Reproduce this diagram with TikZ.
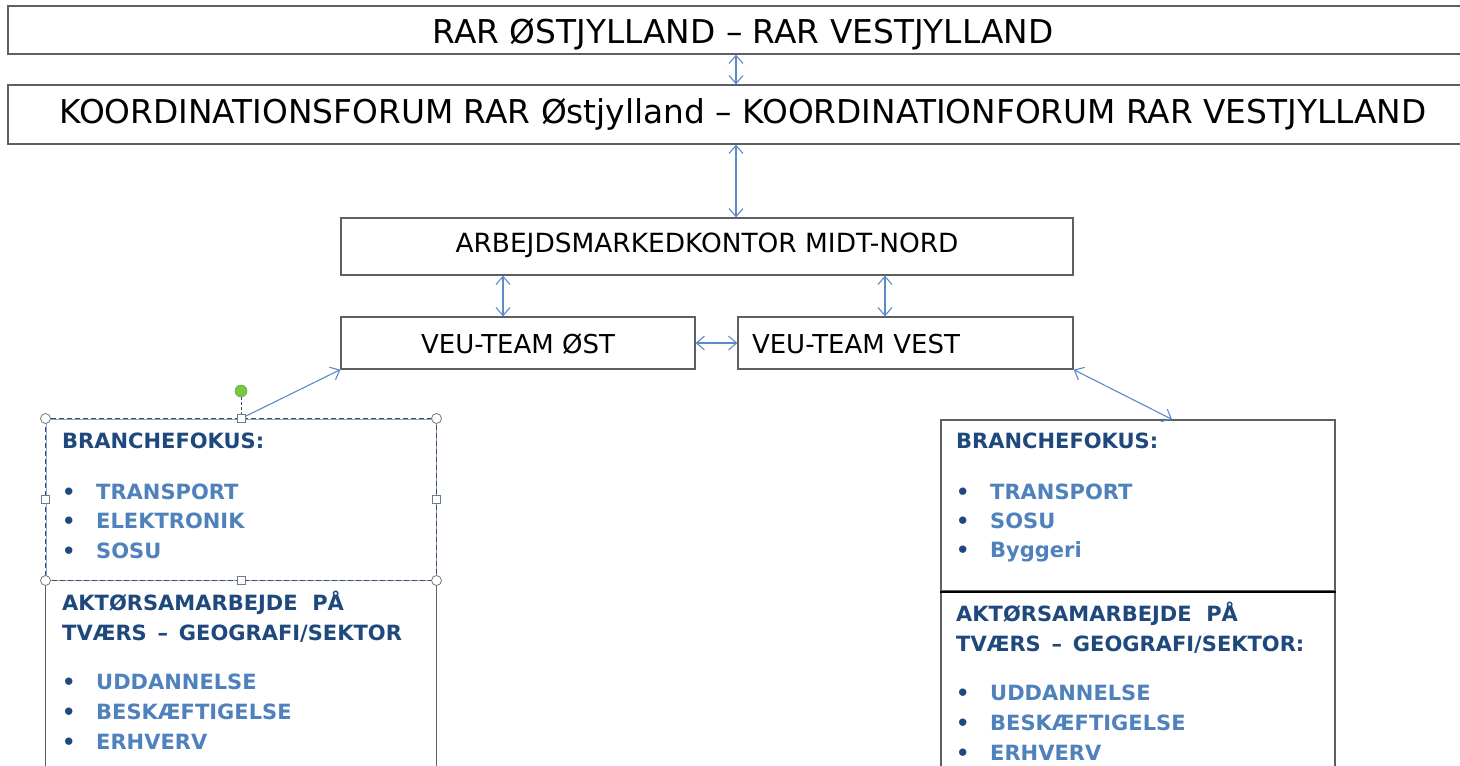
\documentclass[tikz,border=0pt]{standalone}
\usepackage{fontspec}
\setmainfont{DejaVu Sans}
\usetikzlibrary{arrows.meta}
\definecolor{dblue}{RGB}{31,73,125}
\definecolor{lblue}{RGB}{79,129,189}
\definecolor{arrblue}{RGB}{92,137,200}
\definecolor{boxgray}{RGB}{95,95,95}
\definecolor{selgray}{RGB}{60,72,95}
\definecolor{handlegray}{RGB}{120,120,120}
\definecolor{rotgreen}{RGB}{122,201,67}
\newcommand{\bulit}[1]{\makebox[34pt][l]{\textcolor{dblue}{•}}#1}
\begin{document}
\begin{tikzpicture}[x=1pt,y=-1pt,
  box/.style={draw=boxgray, line width=1.3pt, inner sep=0pt, fill=white},
  bigtxt/.style={font=\fontsize{32.8}{38}\selectfont, text depth=0pt},
  arbtxt/.style={font=\fontsize{26.4}{31}\selectfont, text depth=0pt},
  veutxt/.style={font=\fontsize{26}{31}\selectfont, text depth=0pt},
  conn/.style={draw=arrblue, line width=1.1pt, {Straight Barb[length=8pt,width=14pt]}-{Straight Barb[length=8pt,width=14pt]}},
  conn1/.style={draw=arrblue, line width=1.1pt, -{Straight Barb[length=8pt,width=14pt]}},
  hd/.style={font=\fontsize{21}{25}\selectfont\bfseries, text=dblue, anchor=base west, inner sep=0pt},
  itm/.style={font=\fontsize{21}{25}\selectfont\bfseries, text=lblue, anchor=base west, inner sep=0pt},
  hcirc/.style={circle, draw=handlegray, fill=white, line width=0.8pt, minimum size=10pt, inner sep=0pt},
  hsq/.style={rectangle, draw=handlegray!80!lblue, fill=white, line width=0.8pt, minimum size=8pt, inner sep=0pt},
  hrot/.style={circle, fill=rotgreen, draw=rotgreen!80!black, line width=0.5pt, minimum size=12pt, inner sep=0pt}]
\clip (0,0) rectangle (1460,766);
\fill[white] (0,0) rectangle (1460,766);

% top boxes
\node[box, bigtxt, text height=27.3pt, minimum width=1470pt, minimum height=48pt] (rar) at (743,30) {RAR ØSTJYLLAND – RAR VESTJYLLAND};
\node[box, bigtxt, text height=18.3pt, minimum width=1470pt, minimum height=59pt] (kf) at (743,114.5) {KOORDINATIONSFORUM RAR Østjylland – KOORDINATIONFORUM RAR VESTJYLLAND};
\node[box, arbtxt, text height=12.3pt, minimum width=732pt, minimum height=57pt] (arb) at (707,246.5) {ARBEJDSMARKEDKONTOR MIDT-NORD};
\node[box, veutxt, text height=20pt, minimum width=354pt, minimum height=52pt] (ost) at (518,343) {VEU-TEAM ØST};
\node[box, veutxt, text height=20pt, minimum height=52pt, text width=307pt, inner xsep=14pt, align=left] (vest) at (905.5,343) {VEU-TEAM VEST};

% left boxes
\node[minimum width=390pt, minimum height=220pt, inner sep=0pt] (lb2) at (241,690) {};
\draw[boxgray, line width=1.3pt] (lb2.north west) -- (lb2.south west) (lb2.north east) -- (lb2.south east);
\node[draw=lblue!70, line width=1pt, minimum width=390pt, minimum height=161pt, inner sep=0pt] (lb1) at (241,499.5) {};
\draw[selgray, line width=1.2pt, dash pattern=on 5pt off 3pt] (lb1.north west) rectangle (lb1.south east);

% right boxes
\node[box, minimum width=394pt, minimum height=171pt] (rb1) at (1138,505.5) {};
\node[box, minimum width=394pt, minimum height=209pt] (rb2) at (1138,695.5) {};
\draw[black, line width=2.2pt] (rb1.south west) -- (rb1.south east);

% connectors
\coordinate (a1) at (736,0);
\coordinate (a2) at (503,0);
\coordinate (a3) at (885,0);
\coordinate (a4) at (1172,0);
\draw[conn] (rar.south -| a1) -- (kf.north -| a1);
\draw[conn] (kf.south -| a1) -- (arb.north -| a1);
\draw[conn] (arb.south -| a2) -- (ost.north -| a2);
\draw[conn] (arb.south -| a3) -- (vest.north -| a3);
\draw[conn] (ost.east) -- (vest.west);
\draw[conn1] (lb1.north) -- (ost.south west);
\draw[conn] (vest.south east) -- (rb1.north -| a4);

% selection handles
\node[hrot] (rot) at (241,391) {};
\draw[selgray, line width=1pt, dash pattern=on 3pt off 2pt] (rot.south) -- (lb1.north);
\node[hcirc] (c1) at (lb1.north west) {};
\node[hcirc] (c2) at (lb1.north east) {};
\node[hcirc] (c3) at (lb1.south west) {};
\node[hcirc] (c4) at (lb1.south east) {};
\node[hsq] (s1) at (lb1.north) {};
\node[hsq] (s2) at (lb1.west) {};
\node[hsq] (s3) at (lb1.east) {};
\node[hsq] (s4) at (lb1.south) {};

% left text
\node[hd] (lh1) at (62,448.5) {BRANCHEFOKUS:};
\node[itm] (li1) at (62,499.5) {\bulit{TRANSPORT}};
\node[itm] (li2) at (62,528.5) {\bulit{ELEKTRONIK}};
\node[itm] (li3) at (62,558.5) {\bulit{SOSU}};
\node[hd] (lh2) at (62,610.5) {AKTØRSAMARBEJDE\ \ PÅ};
\node[hd] (lh3) at (62,640.5) {TVÆRS \,–\, GEOGRAFI/SEKTOR};
\node[itm] (li4) at (62,689.5) {\bulit{UDDANNELSE}};
\node[itm] (li5) at (62,719.5) {\bulit{BESKÆFTIGELSE}};
\node[itm] (li6) at (62,749.5) {\bulit{ERHVERV}};

% right text
\node[hd] (rh1) at (956,448.5) {BRANCHEFOKUS:};
\node[itm] (ri1) at (956,499.5) {\bulit{TRANSPORT}};
\node[itm] (ri2) at (956,528.5) {\bulit{SOSU}};
\node[itm] (ri3) at (956,557.5) {\bulit{Byggeri}};
\node[hd] (rh2) at (956,621.5) {AKTØRSAMARBEJDE\ \ PÅ};
\node[hd] (rh3) at (956,651.5) {TVÆRS \,–\, GEOGRAFI/SEKTOR:};
\node[itm] (ri4) at (956,700.5) {\bulit{UDDANNELSE}};
\node[itm] (ri5) at (956,730.5) {\bulit{BESKÆFTIGELSE}};
\node[itm] (ri6) at (956,760.5) {\bulit{ERHVERV}};
\end{tikzpicture}
\end{document}
